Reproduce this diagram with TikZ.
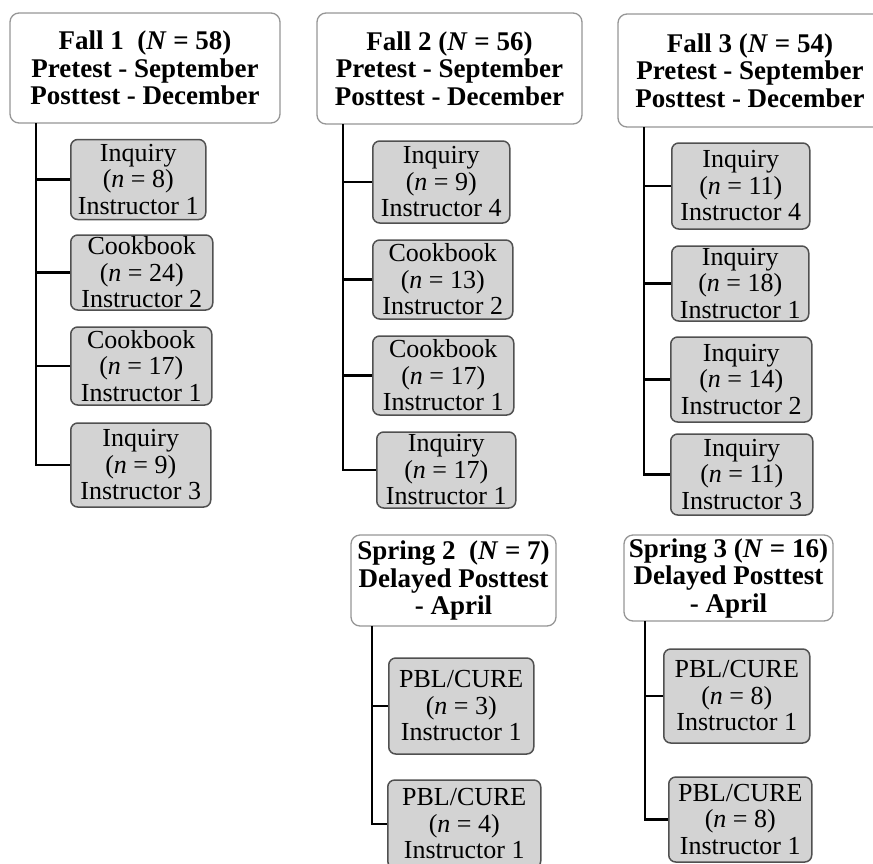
\documentclass[tikz,border=0pt]{standalone}
\usepackage{fontspec}
\setmainfont{Liberation Serif}
\usepackage{xcolor}
\usetikzlibrary{positioning}
\definecolor{boxgray}{RGB}{211,211,211}
\definecolor{edgegray}{RGB}{80,80,80}
\definecolor{headedge}{RGB}{150,150,150}
\tikzset{
  wave/.style={rectangle,draw=headedge,line width=1.3pt,fill=white,rounded corners=9pt,align=center,inner sep=0pt,font=\fontsize{27}{27.5}\selectfont\bfseries},
  group/.style={rectangle,draw=edgegray,line width=1.5pt,fill=boxgray,rounded corners=7pt,align=center,inner sep=0pt,minimum width=140pt,minimum height=80pt,anchor=west,font=\fontsize{26}{26.5}\selectfont},
  branch/.style={line width=2.6pt}
}

\begin{document}
\begin{tikzpicture}[x=1pt,y=-1pt]
    \useasboundingbox (0,0) rectangle (873,863);

    % Semestres de otoño
    \node[wave,minimum width=270pt,minimum height=110pt] (fall1) at (145,68) {Fall 1\ \ (\textit{N} = 58)\\Pretest - September\\Posttest - December};
    \node[wave,minimum width=265pt,minimum height=111pt] (fall2) at (449.5,68.5) {Fall 2 (\textit{N} = 56)\\Pretest - September\\Posttest - December};
    \node[wave,minimum width=264pt,minimum height=113pt] (fall3) at (750,70.5) {Fall 3 (\textit{N} = 54)\\Pretest - September\\Posttest - December};

    % Grupos de Fall 1
    \node[group,minimum width=135pt] (f1a) at (70,179.5) {Inquiry\\(\textit{n} = 8)\\Instructor 1};
    \node[group,minimum width=142pt,minimum height=75pt] (f1b) at (70,272.5) {Cookbook\\(\textit{n} = 24)\\Instructor 2};
    \node[group,minimum width=141pt,minimum height=78pt] (f1c) at (70,366) {Cookbook\\(\textit{n} = 17)\\Instructor 1};
    \node[group,minimum height=84pt] (f1d) at (70,465) {Inquiry\\(\textit{n} = 9)\\Instructor 3};

    % Grupos de Fall 2
    \node[group,minimum width=137pt,minimum height=82pt] (f2a) at (372,182) {Inquiry\\(\textit{n} = 9)\\Instructor 4};
    \node[group,minimum width=140pt,minimum height=79pt] (f2b) at (372,279.5) {Cookbook\\(\textit{n} = 13)\\Instructor 2};
    \node[group,minimum width=141pt,minimum height=79pt] (f2c) at (372,375.5) {Cookbook\\(\textit{n} = 17)\\Instructor 1};
    \node[group,minimum width=139pt,minimum height=76pt] (f2d) at (376,470) {Inquiry\\(\textit{n} = 17)\\Instructor 1};

    % Grupos de Fall 3
    \node[group,minimum width=138pt,minimum height=86pt] (f3a) at (671,186) {Inquiry\\(\textit{n} = 11)\\Instructor 4};
    \node[group,minimum width=137pt,minimum height=75pt] (f3b) at (671,283.5) {Inquiry\\(\textit{n} = 18)\\Instructor 1};
    \node[group,minimum width=141pt,minimum height=85pt] (f3c) at (670,379.5) {Inquiry\\(\textit{n} = 14)\\Instructor 2};
    \node[group,minimum width=142pt,minimum height=81pt] (f3d) at (670,474.5) {Inquiry\\(\textit{n} = 11)\\Instructor 3};

    % Semestres de primavera
    \node[wave,minimum width=205pt,minimum height=91pt] (spring2) at (453.5,580.5) {Spring 2\ \ (\textit{N} = 7)\\Delayed Posttest\\- April};
    \node[wave,minimum width=209pt,minimum height=86pt] (spring3) at (728.5,578) {Spring 3 (\textit{N} = 16)\\Delayed Posttest\\- April};

    \node[group,minimum width=145pt,minimum height=96pt] (s2a) at (388,706) {PBL/CURE\\(\textit{n} = 3)\\Instructor 1};
    \node[group,minimum width=153pt,minimum height=88pt] (s2b) at (387,824) {PBL/CURE\\(\textit{n} = 4)\\Instructor 1};
    \node[group,minimum width=146pt,minimum height=94pt] (s3a) at (663,696) {PBL/CURE\\(\textit{n} = 8)\\Instructor 1};
    \node[group,minimum width=143pt,minimum height=85pt] (s3b) at (668,819.5) {PBL/CURE\\(\textit{n} = 8)\\Instructor 1};

    % Troncos
    \coordinate (trunk1) at (36,123);
    \coordinate (trunk2) at (343,124);
    \coordinate (trunk3) at (644,127);
    \coordinate (trunk4) at (372,626);
    \coordinate (trunk5) at (645,621);

    % Ramas
    \draw[branch] (trunk1) |- (f1d.west);
    \foreach \g in {f1a,f1b,f1c} \draw[branch] (trunk1 |- \g.west) -- (\g.west);
    \draw[branch] (trunk2) |- (f2d.west);
    \foreach \g in {f2a,f2b,f2c} \draw[branch] (trunk2 |- \g.west) -- (\g.west);
    \draw[branch] (trunk3) |- (f3d.west);
    \foreach \g in {f3a,f3b,f3c} \draw[branch] (trunk3 |- \g.west) -- (\g.west);
    \draw[branch] (trunk4) |- (s2b.west);
    \draw[branch] (trunk4 |- s2a.west) -- (s2a.west);
    \draw[branch] (trunk5) |- (s3b.west);
    \draw[branch] (trunk5 |- s3a.west) -- (s3a.west);
\end{tikzpicture}
\end{document}
